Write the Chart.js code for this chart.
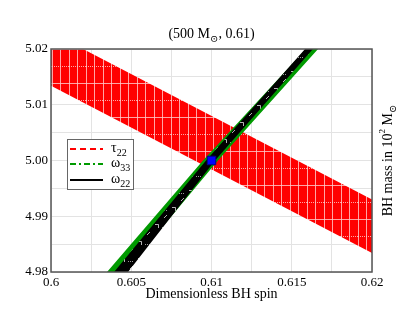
<!DOCTYPE html>
<html>
<head>
<meta charset="utf-8">
<script src="https://cdn.jsdelivr.net/npm/chart.js@4/dist/chart.umd.min.js"></script>
<style>
  html, body { margin: 0; padding: 0; background: #fff; }
  #wrap { width: 415px; height: 321px; }
</style>
</head>
<body>
<div id="wrap"><canvas id="spinChart" width="415" height="321"></canvas></div>
<script>
// axis ticks
const xGridValues = [0.6, 0.6025, 0.605, 0.6075, 0.61, 0.6125, 0.615, 0.6175, 0.62];
const xLabelValues = [0.6, 0.605, 0.61, 0.615, 0.62];
const xLabelText = ['0.6', '0.605', '0.61', '0.615', '0.62'];
const yGridValues = [4.98, 4.985, 4.99, 4.995, 5.0, 5.005, 5.01, 5.015, 5.02];
const yLabelValues = [4.98, 4.99, 5.0, 5.01, 5.02];
const yLabelText = ['4.98', '4.99', '5.00', '5.01', '5.02'];

// confidence regions (outline of each band: spin, mass)
const tau22Spin = [0.6, 0.62, 0.62, 0.6];
const tau22Mass = [5.0230, 4.9930, 4.9834, 5.0134];
const omega33Spin = [0.60349, 0.60947, 0.61589, 0.61664, 0.61040, 0.60461];
const omega33Mass = [4.98, 5.00, 5.02, 5.02, 5.00, 4.98];
const omega22Spin = [0.60393, 0.60966, 0.61583, 0.61632, 0.61022, 0.60480];
const omega22Mass = [4.98, 5.00, 5.02, 5.02, 5.00, 4.98];

// injected value
const trueSpin = [0.61];
const trueMass = [5.00];

const FONT = "'Liberation Serif', 'DejaVu Serif', serif";

function toPoints(xs, ys) {
    return xs.map((x, i) => ({ x: x, y: ys[i] }));
}

function makeRedPattern(ctx) {
    const c = document.createElement('canvas');
    c.width = 17; c.height = 34;
    const p = c.getContext('2d');
    p.fillStyle = '#ff0000';
    p.fillRect(0, 0, 17, 34);
    p.fillStyle = 'rgba(255,205,205,0.8)';
    p.fillRect(0, 0, 1, 34);
    p.fillRect(8, 0, 1, 34);
    p.fillRect(0, 0, 17, 1);
    for (let x = 0; x < 17; x += 2) p.fillRect(x, 17, 1, 1);
    const pat = ctx.createPattern(c, 'repeat');
    if (pat.setTransform) pat.setTransform(new DOMMatrix().translate(1, 15));
    return pat;
}

function makeBlackPattern(ctx) {
    const c = document.createElement('canvas');
    c.width = 17; c.height = 17;
    const p = c.getContext('2d');
    p.fillStyle = '#000000';
    p.fillRect(0, 0, 17, 17);
    p.strokeStyle = 'rgba(255,255,255,0.7)';
    p.lineWidth = 1;
    p.beginPath();
    p.moveTo(2, 3.5); p.lineTo(5.5, 3.5); p.lineTo(5.5, 7);
    p.moveTo(11, 14); p.lineTo(14, 11);
    p.stroke();
    p.fillStyle = 'rgba(255,255,255,0.6)';
    for (let x = 9; x < 15; x += 2) p.fillRect(x, 6, 1, 1);
    return ctx.createPattern(c, 'repeat');
}

function drawRich(ctx, parts, x, y, align) {
    let total = 0;
    parts.forEach(p => {
        ctx.font = p.size + 'px ' + FONT;
        p.w = ctx.measureText(p.t).width;
        total += p.w;
    });
    let cx = align === 'center' ? x - total / 2 : x;
    ctx.textBaseline = 'alphabetic';
    ctx.textAlign = 'left';
    parts.forEach(p => {
        ctx.font = p.size + 'px ' + FONT;
        ctx.fillText(p.t, cx, y + (p.dy || 0));
        cx += p.w;
    });
}

const extras = {
    id: 'extras',
    afterDraw(chart) {
        const ctx = chart.ctx;
        const a = chart.chartArea;
        ctx.save();

        // plot frame
        ctx.strokeStyle = '#555';
        ctx.lineWidth = 1.5;
        ctx.strokeRect(a.left, a.top, a.right - a.left, a.bottom - a.top);

        ctx.fillStyle = '#000';
        // title
        drawRich(ctx, [
            { t: '(500 M', size: 14 },
            { t: '\u2299', size: 10, dy: 4 },
            { t: ', 0.61)', size: 14 }
        ], (a.left + a.right) / 2, 38, 'center');

        // right axis label
        ctx.save();
        ctx.translate(392, (a.top + a.bottom) / 2);
        ctx.rotate(-Math.PI / 2);
        drawRich(ctx, [
            { t: 'BH mass in 10', size: 14 },
            { t: '2', size: 9, dy: -7 },
            { t: ' M', size: 14 },
            { t: '\u2299', size: 10, dy: 4 }
        ], 0, 0, 'center');
        ctx.restore();

        // legend
        const lx = 67, ly = 139, lw = 66, lh = 50;
        ctx.fillStyle = '#fff';
        ctx.fillRect(lx, ly, lw, lh);
        ctx.strokeStyle = '#666';
        ctx.lineWidth = 1;
        ctx.strokeRect(lx + 0.5, ly + 0.5, lw, lh);
        const items = [
            { color: '#ff0000', dash: [6, 4], sym: '\u03c4', sub: '22', y: 149 },
            { color: '#009a00', dash: [6, 3, 2, 3], sym: '\u03c9', sub: '33', y: 164 },
            { color: '#000000', dash: [], sym: '\u03c9', sub: '22', y: 180 }
        ];
        items.forEach(it => {
            ctx.strokeStyle = it.color;
            ctx.lineWidth = 2;
            ctx.setLineDash(it.dash);
            ctx.beginPath();
            ctx.moveTo(70, it.y);
            ctx.lineTo(103, it.y);
            ctx.stroke();
            ctx.setLineDash([]);
            ctx.fillStyle = '#000';
            drawRich(ctx, [
                { t: it.sym, size: 14 },
                { t: it.sub, size: 10, dy: 4 }
            ], 111, it.y + 3, 'left');
        });
        ctx.restore();
    }
};

function tickLabel(values, texts) {
    return function(value) {
        const i = values.findIndex(v => Math.abs(v - value) < 1e-9);
        return i >= 0 ? texts[i] : '';
    };
}

const ctx = document.getElementById('spinChart').getContext('2d');
const spinChart = new Chart(ctx, {
    type: 'scatter',
    data: {
        datasets: [{
            label: 'injected',
            data: toPoints(trueSpin, trueMass),
            pointStyle: 'rect',
            pointRadius: 6,
            backgroundColor: '#0000ff',
            borderColor: '#00008b',
            borderWidth: 1,
            showLine: false
        }, {
            label: 'omega22',
            data: toPoints(omega22Spin, omega22Mass),
            showLine: true,
            fill: 'shape',
            backgroundColor: makeBlackPattern(ctx),
            borderWidth: 0,
            pointRadius: 0
        }, {
            label: 'omega33',
            data: toPoints(omega33Spin, omega33Mass),
            showLine: true,
            fill: 'shape',
            backgroundColor: '#009a00',
            borderWidth: 0,
            pointRadius: 0
        }, {
            label: 'tau22',
            data: toPoints(tau22Spin, tau22Mass),
            showLine: true,
            fill: 'shape',
            backgroundColor: makeRedPattern(ctx),
            borderWidth: 0,
            pointRadius: 0
        }]
    },
    options: {
        responsive: false,
        animation: false,
        events: [],
        layout: { padding: { top: 49, right: 43, left: 0, bottom: 0 } },
        plugins: {
            legend: { display: false },
            tooltip: { enabled: false }
        },
        scales: {
            x: {
                type: 'linear',
                min: 0.6,
                max: 0.62,
                afterBuildTicks: s => { s.ticks = xGridValues.map(v => ({ value: v })); },
                afterFit: s => { s.height = 49; },
                grid: { color: '#e3e3e3', drawTicks: false },
                border: { display: false },
                ticks: {
                    autoSkip: false,
                    maxRotation: 0,
                    padding: 3,
                    color: '#000',
                    font: { family: FONT, size: 13 },
                    callback: tickLabel(xLabelValues, xLabelText)
                },
                title: {
                    display: true,
                    text: 'Dimensionless BH spin',
                    color: '#000',
                    font: { family: FONT, size: 14 },
                    padding: { top: 0, bottom: 18 }
                }
            },
            y: {
                type: 'linear',
                min: 4.98,
                max: 5.02,
                afterBuildTicks: s => { s.ticks = yGridValues.map(v => ({ value: v })); },
                afterFit: s => { s.width = 51; },
                grid: { color: '#e3e3e3', drawTicks: false },
                border: { display: false },
                ticks: {
                    autoSkip: false,
                    padding: 3,
                    color: '#000',
                    font: { family: FONT, size: 13 },
                    callback: tickLabel(yLabelValues, yLabelText)
                }
            }
        }
    },
    plugins: [extras]
});
</script>
</body>
</html>
